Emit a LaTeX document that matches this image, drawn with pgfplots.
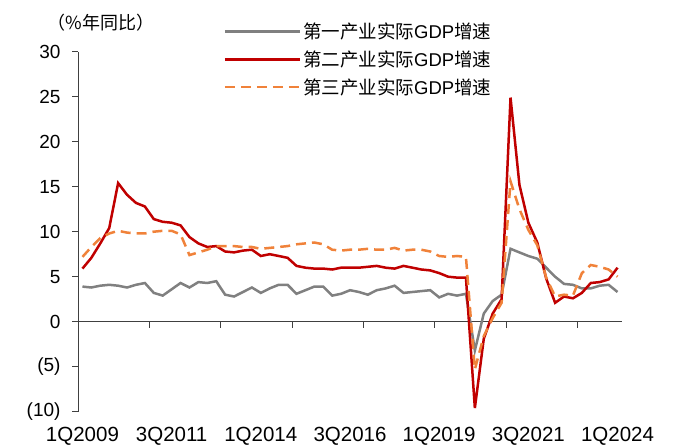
\documentclass[border=0pt]{standalone}
\usepackage{pgfplots}
\usepackage{pgfplotstable}
\pgfplotsset{compat=1.18}
\usepackage{fontspec}
\setmainfont{Liberation Sans}
\newfontfamily\cjk{Noto Sans CJK SC}

\definecolor{prim}{HTML}{808080}
\definecolor{sec}{HTML}{C00000}
\definecolor{ter}{HTML}{F0823A}

% quarterly real GDP growth by sector, 1Q2009 = 0 ... 1Q2024 = 60
\pgfplotstableread{
q  prim  sec   ter
0  3.9   5.9   7.2
1  3.8   7.1   8.3
2  4.0   8.7   9.3
3  4.1   10.4  9.8
4  4.0   15.4  10.1
5  3.8   14.1  9.9
6  4.1   13.2  9.8
7  4.3   12.8  9.8
8  3.2   11.4  10.0
9  2.9   11.1  10.1
10 3.6   11.0  10.1
11 4.3   10.7  9.7
12 3.8   9.4   7.4
13 4.4   8.7   7.7
14 4.3   8.3   8.0
15 4.5   8.4   8.4
16 3.0   7.8   8.4
17 2.8   7.7   8.4
18 3.3   7.9   8.3
19 3.8   8.0   8.3
20 3.2   7.3   8.1
21 3.7   7.5   8.2
22 4.1   7.3   8.3
23 4.1   7.1   8.4
24 3.1   6.2   8.6
25 3.5   6.0   8.7
26 3.9   5.9   8.8
27 3.9   5.9   8.6
28 2.9   5.8   8.0
29 3.1   6.0   7.9
30 3.5   6.0   8.0
31 3.3   6.0   8.0
32 3.0   6.1   8.1
33 3.5   6.2   8.0
34 3.7   6.0   8.0
35 4.0   5.9   8.2
36 3.2   6.2   7.9
37 3.3   6.0   8.0
38 3.4   5.8   8.0
39 3.5   5.7   7.8
40 2.7   5.4   7.3
41 3.1   5.0   7.2
42 2.9   4.9   7.3
43 3.1   4.9   7.2
44 -3.2  -9.6  -5.3
45 0.9   -1.9  -1.6
46 2.3   0.9   0.4
47 3.0   2.5   2.1
48 8.1   24.9  15.6
49 7.7   15.2  12.5
50 7.3   11.0  10.2
51 7.0   8.8   8.5
52 6.0   4.8   4.9
53 5.0   2.1   2.8
54 4.2   2.8   3.0
55 4.1   2.6   2.9
56 3.7   3.2   5.4
57 3.7   4.3   6.3
58 4.0   4.4   6.1
59 4.1   4.7   5.8
60 3.3   6.0   5.0
}\gdp

\begin{document}
\begin{tikzpicture}
\path[use as bounding box] (0,0) rectangle (681bp,447bp);
\begin{axis}[
    at={(78bp,35.3bp)}, anchor=south west,
    scale only axis, width=544bp, height=360bp,
    xmin=-0.5, xmax=60.5, ymin=-10, ymax=30,
    axis y line*=left, axis x line*=bottom,
    x axis line style={draw=none},
    y axis line style={black!75, line width=0.9bp},
    xtick={0,10,...,60},
    xticklabels={1Q2009,3Q2011,1Q2014,3Q2016,1Q2019,3Q2021,1Q2024},
    xtick style={draw=none},
    xticklabel style={font=\fontsize{20.5bp}{22bp}\selectfont, yshift=-6bp},
    ytick={-10,-5,...,30},
    yticklabels={(10),(5),0,5,10,15,20,25,30},
    ytick style={black!75, line width=0.9bp},
    yticklabel style={font=\fontsize{19bp}{21bp}\selectfont, xshift=-8bp},
    tick align=outside, major tick length=6bp,
    clip=false,
    legend style={draw=none, fill=none, at={(0.262,1.091)}, anchor=north west,
        font=\fontsize{18.5bp}{20bp}\selectfont, row sep=6.5bp,
        cells={anchor=west}},
    legend image code/.code={\draw[#1] (0bp,0bp) -- (75bp,0bp);},
]
\draw[black!75, line width=0.9bp] (axis cs:-0.5,0) -- (axis cs:60.5,0);
\pgfplotsinvokeforeach{-0.5,7.5,15.5,23.5,31.5,39.5,47.5,55.5}{
    \draw[black!75, line width=0.9bp] (axis cs:#1,0) -- ++(0pt,-6bp);
}
\addplot[prim, line width=2.5bp] table[x=q, y=prim] {\gdp};
\addlegendentry{{\cjk 第一产业实际}GDP{\cjk 增速}}
\addplot[sec, line width=2.5bp] table[x=q, y=sec] {\gdp};
\addlegendentry{{\cjk 第二产业实际}GDP{\cjk 增速}}
\addplot[ter, line width=2.5bp, dash pattern=on 10bp off 6bp] table[x=q, y=ter] {\gdp};
\addlegendentry{{\cjk 第三产业实际}GDP{\cjk 增速}}
\node[font=\cjk\fontsize{18bp}{20bp}\selectfont] at (rel axis cs:0.042,1.08) {（\%年同比）};
\end{axis}
\end{tikzpicture}
\end{document}
